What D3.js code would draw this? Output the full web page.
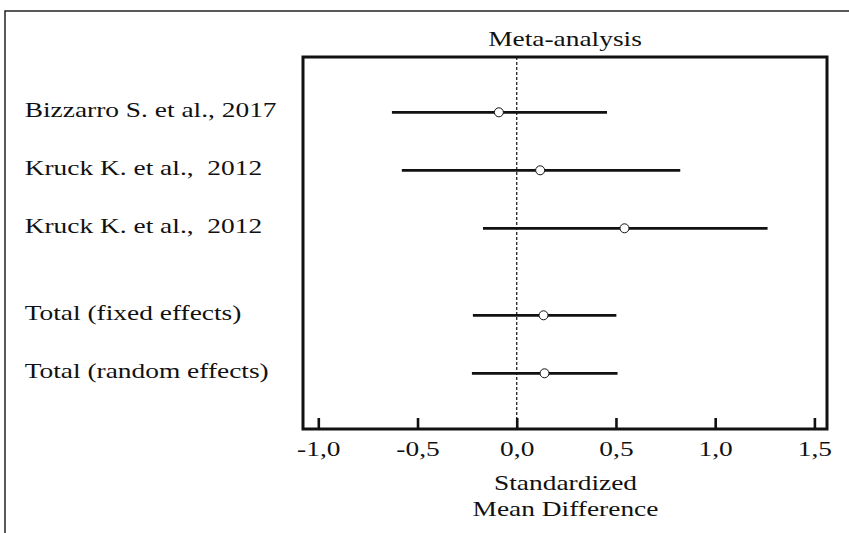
<!DOCTYPE html>
<html>
<head>
<meta charset="utf-8">
<script src="https://cdn.jsdelivr.net/npm/d3@7"></script>
<style>
  html, body { margin: 0; padding: 0; background: #fff; }
  svg { display: block; }
  text { font-family: "Liberation Serif", "Times New Roman", serif; fill: #111; white-space: pre; }
</style>
</head>
<body>
<svg id="chart" width="849" height="533"></svg>
<script>
// ---- data ----
const studies = ["Bizzarro S. et al., 2017", "Kruck K. et al.,  2012", "Kruck K. et al.,  2012", "Total (fixed effects)", "Total (random effects)"];
const effect = [-0.090, 0.118, 0.543, 0.135, 0.140];
const lower  = [-0.629, -0.579, -0.170, -0.221, -0.226];
const upper  = [0.455, 0.824, 1.264, 0.502, 0.508];
const tickValues = [-1.0, -0.5, 0.0, 0.5, 1.0, 1.5];
const tickLabels = ["-1,0", "-0,5", "0,0", "0,5", "1,0", "1,5"];
const title = "Meta-analysis";
const axisTitle = ["Standardized", "Mean Difference"];

// ---- layout ----
const svg = d3.select("#chart");
const box = { left: 303, right: 827, top: 57, bottom: 429 };
const SX = 1.305;   // horizontal text stretch
const FS = 21;

const x = d3.scaleLinear().domain([-1, 1.5]).range([318.3, 814.4]);
const nStudies = 3;
const pos = studies.map((d, i) => i + (i >= nStudies ? 0.5 : 0));
const y = d3.scaleLinear().domain([0, 4.5]).range([112.3, 373.3]);

// outer frame (top and left lines)
svg.append("path")
  .attr("d", `M5,533 L5,11 L849,11`)
  .attr("fill", "none").attr("stroke", "#222").attr("stroke-width", 1.5);

// title
svg.append("text")
  .attr("transform", `translate(${(box.left + box.right) / 2},45.7) scale(${SX},1)`)
  .attr("text-anchor", "middle").attr("font-size", FS).text(title);

// zero reference line
svg.append("line")
  .attr("x1", x(0)).attr("x2", x(0))
  .attr("y1", box.top).attr("y2", box.bottom)
  .attr("stroke", "#111").attr("stroke-width", 1.2).attr("stroke-dasharray", "3,2");

// axis
const axis = d3.axisBottom(x)
  .tickValues(tickValues)
  .tickFormat((d, i) => tickLabels[i])
  .tickSizeInner(-11).tickSizeOuter(0).tickPadding(0);
const gAxis = svg.append("g").attr("transform", `translate(0,${box.bottom})`).call(axis);
gAxis.select(".domain").remove();
gAxis.selectAll(".tick line").attr("stroke", "#111").attr("stroke-width", 2.6);
gAxis.selectAll(".tick text")
  .attr("y", 26.7).attr("dy", null)
  .attr("transform", `scale(${SX},1)`)
  .attr("font-size", FS).attr("font-family", null).attr("fill", "#111");

// plot box
svg.append("rect")
  .attr("x", box.left).attr("y", box.top)
  .attr("width", box.right - box.left).attr("height", box.bottom - box.top)
  .attr("fill", "none").attr("stroke", "#111").attr("stroke-width", 3);

// axis title
axisTitle.forEach((t, i) => {
  svg.append("text")
    .attr("transform", `translate(565.5,${489.5 + i * 26.5}) scale(${SX},1)`)
    .attr("text-anchor", "middle").attr("font-size", FS).text(t);
});

// row labels
svg.selectAll("text.row").data(studies).enter().append("text")
  .attr("class", "row")
  .attr("transform", (d, i) => `translate(24.7,${y(pos[i]) + 4.8}) scale(${SX},1)`)
  .attr("font-size", FS).text(d => d);

// confidence intervals
svg.selectAll("line.ci").data(studies).enter().append("line")
  .attr("class", "ci")
  .attr("x1", (d, i) => x(lower[i])).attr("x2", (d, i) => x(upper[i]))
  .attr("y1", (d, i) => y(pos[i])).attr("y2", (d, i) => y(pos[i]))
  .attr("stroke", "#111").attr("stroke-width", 2.8);

// point estimates
svg.selectAll("circle.pt").data(studies).enter().append("circle")
  .attr("class", "pt")
  .attr("cx", (d, i) => x(effect[i])).attr("cy", (d, i) => y(pos[i]))
  .attr("r", 4.5)
  .attr("fill", "#fff").attr("stroke", "#111").attr("stroke-width", 1);
</script>
</body>
</html>
